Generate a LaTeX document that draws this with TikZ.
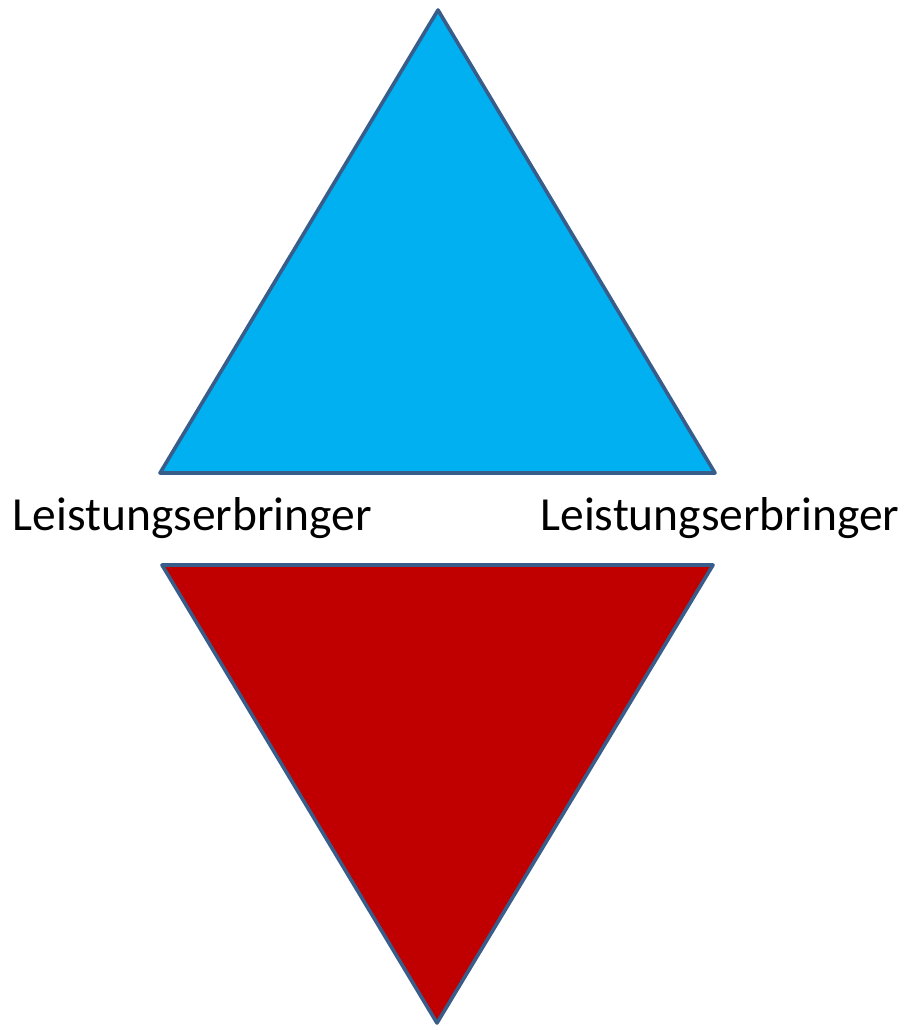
\documentclass[tikz,border=0pt]{standalone}
\usepackage{fontspec}
\setmainfont{Carlito}
\definecolor{edge}{HTML}{385D8A}
\definecolor{topfill}{HTML}{00B0F0}
\definecolor{botfill}{HTML}{C00000}
\begin{document}
\begin{tikzpicture}[x=1pt,y=-1pt,
  tri/.style={draw=edge,line width=3.6pt,line join=round},
  lbl/.style={inner sep=0pt,anchor=base,font=\fontsize{47.5}{56}\selectfont}]
\useasboundingbox (0,0) rectangle (906,1030);
\draw[tri,fill=topfill] (438,10) -- (160,473) -- (715,473) -- cycle;
\draw[tri,fill=botfill] (162,565) -- (713,565) -- (437,1023) -- cycle;
\node[lbl] (l) at (192.5,530) {Leistungserbringer};
\node[lbl] (r) at (720,530) {Leistungserbringer};
\end{tikzpicture}
\end{document}
